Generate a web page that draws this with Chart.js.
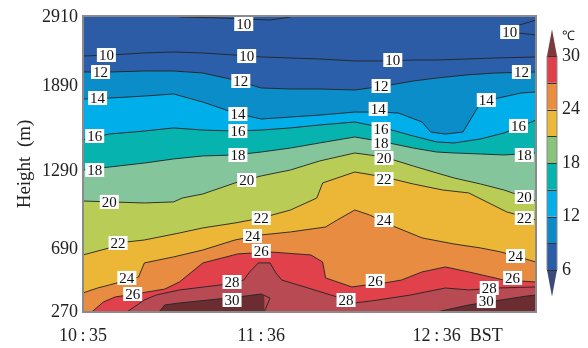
<!DOCTYPE html>
<html>
<head>
<meta charset="utf-8">
<script src="https://cdn.jsdelivr.net/npm/chart.js@4.4.1/dist/chart.umd.min.js"></script>
<style>
  body { margin: 0; background: #fff; }
  #wrap { width: 588px; height: 348px; }
</style>
</head>
<body>
<div id="wrap"><canvas id="chart" width="588" height="348"></canvas></div>
<script>
// time axis (BST)
const timeTicks = ['10:35', '11:36', '12:36'];
const timeStart = '10:35';
const timeEnd = '13:10';

// height axis is on model levels, so labelled heights are not evenly spaced
const heightTicks = [270, 690, 1290, 1890, 2910];
const heightLevels = [0, 6.41, 14.34, 22.98, 30];
const levelTop = 30.1;

// isotherms: [time, height m], null = no line
const iso10 = [['10:35', 2333], ['10:44', 2348], ['10:56', 2378], ['11:06', 2393], ['11:16', 2378], ['11:27', 2348], ['11:36', 2319], ['11:46', 2304], ['11:56', 2289], ['12:08', 2260], ['12:18', 2260], ['12:28', 2274], ['12:36', 2274], ['12:46', 2289], ['12:56', 2304], ['13:10', 2319]];
const iso10Top = [['11:08', 2910], ['11:22', 2895], ['11:39', 2865], ['11:46', 2910]];
const iso10RightA = [['13:01', 2747], ['13:10', 2865]];
const iso10RightB = [['13:01', 2688], ['13:04', 2673], ['13:10', 2644]];
const iso12 = [['10:35', 2097], ['10:44', 2097], ['10:56', 2112], ['11:06', 2112], ['11:16', 2082], ['11:19', 2053], ['11:27', 1979], ['11:36', 1876], ['11:46', 1869], ['11:56', 1869], ['12:08', 1862], ['12:18', 1890], ['12:28', 1964], ['12:36', 2008], ['12:46', 2053], ['12:56', 2082], ['13:10', 2097]];
const iso14 = [['10:35', 1798], ['10:44', 1805], ['10:56', 1819], ['11:06', 1834], ['11:16', 1777], ['11:27', 1699], ['11:36', 1657], ['11:46', 1671], ['11:56', 1685], ['12:08', 1706], ['12:18', 1706], ['12:23', 1699], ['12:31', 1636], ['12:34', 1565], ['12:39', 1551], ['12:45', 1565], ['12:51', 1770], ['12:57', 1805], ['13:05', 1841], ['13:10', 1848]];
const iso16 = [['10:35', 1509], ['10:44', 1551], ['10:56', 1572], ['11:06', 1594], ['11:16', 1579], ['11:27', 1572], ['11:36', 1579], ['11:46', 1594], ['11:56', 1615], ['12:08', 1636], ['12:18', 1594], ['12:28', 1537], ['12:36', 1495], ['12:42', 1488], ['12:51', 1516], ['12:59', 1558], ['13:10', 1650]];
const iso18 = [['10:35', 1297], ['10:44', 1318], ['10:56', 1346], ['11:06', 1375], ['11:16', 1396], ['11:27', 1403], ['11:36', 1424], ['11:46', 1452], ['11:56', 1488], ['12:08', 1530], ['12:18', 1495], ['12:28', 1452], ['12:36', 1424], ['12:42', 1417], ['12:51', 1410], ['12:59', 1403], ['13:10', 1417]];
const iso20 = [['10:35', 1059], ['10:44', 1052], ['10:56', 1044], ['11:06', 1052], ['11:09', 1082], ['11:16', 1113], ['11:27', 1198], ['11:36', 1252], ['11:46', 1297], ['11:56', 1361], ['12:08', 1417], ['12:18', 1389], ['12:28', 1325], ['12:36', 1275], ['12:42', 1236], ['12:51', 1190], ['12:59', 1144], ['13:10', 1059]];
const iso22 = [['10:35', 650], ['10:44', 698], ['10:50', 744], ['10:56', 759], ['11:08', 813], ['11:16', 852], ['11:27', 890], ['11:36', 928], ['11:46', 990], ['11:55', 1082], ['11:57', 1198], ['12:08', 1282], ['12:18', 1244], ['12:28', 1190], ['12:38', 1144], ['12:47', 1121], ['13:00', 975], ['13:10', 913]];
const iso24 = [['10:35', 397], ['10:40', 430], ['10:44', 450], ['10:54', 503], ['10:56', 597], ['11:06', 637], ['11:16', 683], ['11:27', 759], ['11:36', 798], ['11:46', 821], ['11:58', 859], ['12:02', 913], ['12:08', 990], ['12:13', 952], ['12:21', 867], ['12:31', 775], ['12:42', 728], ['12:51', 698], ['12:58', 670], ['13:10', 603]];
const iso26 = [['10:38', 270], ['10:42', 337], ['10:46', 370], ['10:55', 397], ['11:03', 423], ['11:08', 470], ['11:16', 597], ['11:28', 657], ['11:39', 670], ['11:53', 650], ['11:57', 603], ['11:58', 497], ['12:07', 437], ['12:12', 450], ['12:18', 463], ['12:24', 483], ['12:31', 537], ['12:39', 570], ['12:47', 537], ['12:59', 483], ['13:10', 470]];
const iso28 = [['10:50', 270], ['10:56', 350], ['11:00', 383], ['11:08', 417], ['11:22', 450], ['11:30', 483], ['11:32', 537], ['11:35', 597], ['11:39', 597], ['11:41', 530], ['11:43', 483], ['11:52', 430], ['12:02', 370], ['12:08', 330], ['12:16', 350], ['12:27', 383], ['12:39', 430], ['12:47', 417], ['12:57', 430], ['13:10', 437]];
const iso30 = [['11:01', 270], ['11:03', 317], ['11:08', 330], ['11:28', 370], ['11:36', 390], ['11:39', 363], ['11:37', 270], ['12:00', null], ['12:36', 270], ['12:47', 317], ['12:58', 350], ['13:07', 377], ['13:10', 383]];

// contour labels: [time, height m, text]
const contourLabels = [
    ['10:43', 2348, '10'], ['10:41', 2097, '12'], ['10:40', 1805, '14'], ['10:39', 1537, '16'],
    ['10:39', 1297, '18'], ['10:44', 1052, '20'], ['10:47', 736, '22'], ['10:50', 497, '24'],
    ['10:52', 390, '26'], ['11:30', 2806, '10'], ['11:31', 2333, '10'], ['11:29', 1964, '12'],
    ['11:28', 1692, '14'], ['11:28', 1572, '16'], ['11:28', 1403, '18'], ['11:31', 1221, '20'],
    ['11:36', 928, '22'], ['11:33', 790, '24'], ['11:36', 677, '26'], ['11:26', 470, '28'],
    ['11:26', 350, '30'], ['12:05', 350, '28'], ['12:21', 2274, '10'], ['12:17', 1890, '12'],
    ['12:16', 1728, '14'], ['12:17', 1586, '16'], ['12:17', 1488, '18'], ['12:18', 1382, '20'],
    ['12:18', 1228, '22'], ['12:18', 913, '24'], ['12:15', 477, '26'], ['12:53', 1791, '14'],
    ['13:01', 2688, '10'], ['13:05', 2097, '12'], ['13:04', 1608, '16'], ['13:06', 1403, '18'],
    ['13:06', 1090, '20'], ['13:06', 928, '22'], ['13:03', 643, '24'], ['13:02', 497, '26'],
    ['12:54', 430, '28'], ['12:53', 343, '30']
];

// colour bar (deg C)
const cbLevels = [6, 9, 12, 15, 18, 21, 24, 27, 30];
const cbTicks = [6, 12, 18, 24, 30];
const cbColors = ['#2a5da8', '#0c89c7', '#05aee8', '#07b3ae', '#8ac47a', '#ecb83a', '#e98d41', '#e0404a'];
const cbUnder = '#3b4a78';
const cbOver = '#7a3a3e';
const cbMin = 1.29;
const cbMax = 34.49;

const coldColor = '#2d5ca7';
const lineColor = 'rgba(35,35,35,0.9)';
const bands = [
    {data: iso10, color: '#2c5fa9'},
    {data: iso12, color: '#0b8dca'},
    {data: iso14, color: '#00aeea'},
    {data: iso16, color: '#06b3ae'},
    {data: iso18, color: '#84c59b'},
    {data: iso20, color: '#b9cc56'},
    {data: iso22, color: '#ecb637'},
    {data: iso24, color: '#e88c41'},
    {data: iso26, color: '#e0414a'},
    {data: iso28, color: '#b84a53'},
    {data: iso30, color: '#6b2d31'}
];

const xPad = 13;
const serif = '"Liberation Serif", "Times New Roman", serif';
Chart.defaults.font.family = serif;
Chart.defaults.color = '#222';

const toMin = (t) => {
    const p = t.split(':');
    return Number(p[0]) * 60 + Number(p[1]);
};
const fmtTime = (v) => {
    const h = Math.floor(v / 60);
    const m = Math.round(v - h * 60);
    return h + '\u2009:\u2009' + (m < 10 ? '0' + m : m);
};
const hToLevel = (h) => {
    let i = 1;
    while (i < heightTicks.length - 1 && h > heightTicks[i]) i++;
    const f = (h - heightTicks[i - 1]) / (heightTicks[i] - heightTicks[i - 1]);
    return heightLevels[i - 1] + f * (heightLevels[i] - heightLevels[i - 1]);
};
const toPoints = (arr) => arr.map((p) => ({x: toMin(p[0]), y: p[1] === null ? null : hToLevel(p[1])}));

const datasets = bands.map((b, i) => ({
    data: toPoints(b.data),
    backgroundColor: b.color,
    borderColor: lineColor,
    borderWidth: 1,
    fill: 'start',
    pointRadius: 0,
    tension: 0,
    order: 100 - i
}));
[iso10Top, iso10RightA, iso10RightB].forEach((d) => {
    datasets.push({
        data: toPoints(d),
        borderColor: lineColor,
        borderWidth: 1,
        fill: false,
        pointRadius: 0,
        tension: 0,
        order: 0
    });
});

const contourPlugin = {
    id: 'contourExtras',
    beforeDatasetsDraw: function (chart) {
        const a = chart.chartArea;
        const ctx = chart.ctx;
        ctx.save();
        ctx.fillStyle = coldColor;
        ctx.fillRect(a.left, a.top, a.right - a.left, a.bottom - a.top);
        ctx.restore();
    },
    afterDatasetsDraw: function (chart) {
        const a = chart.chartArea;
        const ctx = chart.ctx;
        const xs = chart.scales.x;
        const ys = chart.scales.y;
        ctx.save();
        ctx.strokeStyle = '#8a8a8a';
        ctx.lineWidth = 2;
        ctx.strokeRect(a.left, a.top, a.right - a.left, a.bottom - a.top);

        ctx.font = '15px ' + serif;
        ctx.textAlign = 'center';
        ctx.textBaseline = 'middle';
        contourLabels.forEach((l) => {
            const px = xs.getPixelForValue(toMin(l[0]));
            const py = ys.getPixelForValue(hToLevel(l[1]));
            const w = ctx.measureText(l[2]).width + 4;
            ctx.fillStyle = '#fff';
            ctx.fillRect(px - w / 2, py - 7, w, 14);
            ctx.fillStyle = '#111';
            ctx.fillText(l[2], px, py + 1);
        });
        ctx.restore();
    },
    afterDraw: function (chart) {
        const ctx = chart.ctx;
        const cb = chart.scales.cb;
        const xs = chart.scales.x;
        const x0 = cb.left + 11;
        const x1 = cb.left + 21;
        const xm = (x0 + x1) / 2;
        const py = (v) => cb.getPixelForValue(v);
        ctx.save();
        for (let i = 0; i < cbColors.length; i++) {
            ctx.fillStyle = cbColors[i];
            ctx.fillRect(x0, py(cbLevels[i + 1]), x1 - x0, py(cbLevels[i]) - py(cbLevels[i + 1]));
        }
        const first = cbLevels[0];
        const last = cbLevels[cbLevels.length - 1];
        ctx.fillStyle = cbOver;
        ctx.beginPath();
        ctx.moveTo(x0, py(last));
        ctx.lineTo(xm, py(last + 3));
        ctx.lineTo(x1, py(last));
        ctx.closePath();
        ctx.fill();
        ctx.fillStyle = cbUnder;
        ctx.beginPath();
        ctx.moveTo(x0, py(first));
        ctx.lineTo(xm, py(first - 3));
        ctx.lineTo(x1, py(first));
        ctx.closePath();
        ctx.fill();
        ctx.strokeStyle = '#333';
        ctx.lineWidth = 1;
        cbLevels.forEach((v) => {
            const y = Math.round(py(v)) + 0.5;
            ctx.beginPath();
            ctx.moveTo(x0, y);
            ctx.lineTo(x1, y);
            ctx.stroke();
        });
        ctx.strokeStyle = '#888';
        ctx.beginPath();
        ctx.moveTo(x0, py(first));
        ctx.lineTo(x0, py(last));
        ctx.moveTo(x1, py(first));
        ctx.lineTo(x1, py(last));
        ctx.stroke();

        ctx.fillStyle = '#222';
        ctx.font = '13px ' + serif;
        ctx.textAlign = 'left';
        ctx.textBaseline = 'middle';
        ctx.fillText('\u2103', cb.left + 26, py(last + 3) + 7);

        const lastTick = timeTicks[timeTicks.length - 1];
        const tx = xs.getPixelForValue(toMin(lastTick));
        ctx.font = '18px ' + serif;
        const w = ctx.measureText(fmtTime(toMin(lastTick))).width;
        ctx.fillText('BST', tx + w / 2 + 9, xs.top + xPad + 10.8);
        ctx.restore();
    }
};

// keep tick label padding from pushing the plot area around
const fixVertical = (width) => (s) => {
    s.width = width;
    s.paddingTop = 0;
    s.paddingBottom = 0;
};

new Chart(document.getElementById('chart'), {
    type: 'line',
    data: {datasets: datasets},
    options: {
        responsive: false,
        animation: false,
        devicePixelRatio: 1,
        layout: {padding: {top: 16, left: 0, right: 0, bottom: 0}},
        plugins: {
            legend: {display: false},
            tooltip: {enabled: false}
        },
        scales: {
            x: {
                type: 'linear',
                min: toMin(timeStart),
                max: toMin(timeEnd),
                grid: {display: false, drawTicks: false},
                border: {display: false},
                afterBuildTicks: (s) => { s.ticks = timeTicks.map((t) => ({value: toMin(t)})); },
                afterFit: (s) => {
                    s.height = 36;
                    s.paddingLeft = 0;
                    s.paddingRight = 0;
                },
                ticks: {
                    autoSkip: false,
                    maxRotation: 0,
                    padding: xPad,
                    font: {size: 18},
                    callback: (v) => fmtTime(v)
                }
            },
            y: {
                type: 'linear',
                min: 0,
                max: levelTop,
                grid: {display: false, drawTicks: false},
                border: {display: false},
                afterBuildTicks: (s) => { s.ticks = heightLevels.map((v) => ({value: v})); },
                afterFit: fixVertical(83),
                ticks: {
                    padding: 5,
                    font: {size: 18},
                    callback: (v, i) => String(heightTicks[i])
                },
                title: {
                    display: true,
                    text: 'Height  (m)',
                    font: {size: 19},
                    padding: {top: 14, bottom: 0}
                }
            },
            cb: {
                type: 'linear',
                axis: 'y',
                position: 'right',
                min: cbMin,
                max: cbMax,
                grid: {display: false, drawTicks: false},
                border: {display: false},
                afterBuildTicks: (s) => { s.ticks = cbTicks.map((v) => ({value: v})); },
                afterFit: fixVertical(52),
                ticks: {
                    padding: 26,
                    font: {size: 18},
                    callback: (v) => String(v)
                }
            }
        }
    },
    plugins: [contourPlugin]
});
</script>
</body>
</html>
